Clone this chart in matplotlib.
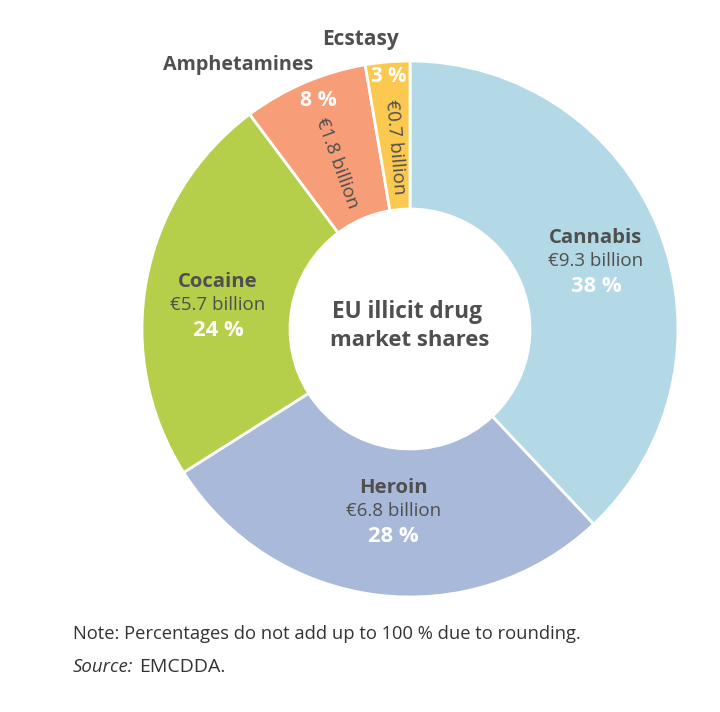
import matplotlib
matplotlib.use("Agg")
import matplotlib.pyplot as plt

labels = ["Cannabis", "Heroin", "Cocaine", "Amphetamines", "Ecstasy"]
amounts = ["€9.3 billion", "€6.8 billion", "€5.7 billion", "€1.8 billion", "€0.7 billion"]
pct_labels = ["38 %", "28 %", "24 %", "8 %", "3 %"]
# Slice sizes (EUR billion)
values = [9.23, 6.81, 5.78, 1.83, 0.65]
colors = ["#b3d9e6", "#a9b9da", "#b5cf4b", "#f79d78", "#fbc850"]

W, H = 720, 712
plt.rcParams["font.family"] = ["Open Sans", "DejaVu Sans"]
fig = plt.figure(figsize=(W/100, H/100), dpi=100, facecolor="white")
ax = fig.add_axes([0, 0, 1, 1])

cx, cy, R = 410, 329, 268
# The y axis is inverted below, so data-counterclockwise from -90 reads clockwise from the top
wedges, _ = ax.pie(values, colors=colors, startangle=-90, counterclock=True,
                   center=(cx, cy), radius=R, frame=False,
                   wedgeprops=dict(width=R-120, edgecolor="white", linewidth=2))
ax.set_xlim(0, W)
ax.set_ylim(H, 0)
ax.set_aspect("equal")
ax.axis("off")

dark = "#4f4f4f"
for x, y, i in [(596, 238, 0), (393.5, 488, 1), (218, 282, 2)]:
    ax.text(x, y, labels[i], ha="center", va="center", fontsize=14.6, fontweight="bold", color=dark)
    ax.text(x, y+23, amounts[i], ha="center", va="center", fontsize=13.5, color=dark)
    ax.text(x, y+48, pct_labels[i], ha="center", va="center", fontsize=15.8, fontweight="bold", color="white")

ax.text(238.5, 65, labels[3], ha="center", va="center", fontsize=14.2, fontweight="bold", color=dark)
ax.text(360, 39, labels[4], ha="center", va="center", fontsize=15, fontweight="bold", color=dark)
ax.text(318, 100, pct_labels[3], ha="center", va="center", fontsize=15.2, fontweight="bold", color="white")
ax.text(388.5, 76, pct_labels[4], ha="center", va="center", fontsize=14.8, fontweight="bold", color="white")
ax.text(337, 163, amounts[3], ha="center", va="center", fontsize=13.5, color=dark, rotation=-70, rotation_mode="anchor")
ax.text(395, 147, amounts[4], ha="center", va="center", fontsize=13.5, color=dark, rotation=-85, rotation_mode="anchor")

ax.text(407, 312, "EU illicit drug", ha="center", va="center", fontsize=16.3, fontweight="bold", color=dark)
ax.text(410, 341, "market shares", ha="center", va="center", fontsize=15.9, fontweight="bold", color=dark)

ax.text(73, 634, "Note: Percentages do not add up to 100 % due to rounding.", ha="left", va="center", fontsize=13.2, color="#333333")
ax.text(73, 667, "Source:", ha="left", va="center", fontsize=13.4, style="italic", color="#333333")
ax.text(139, 667, "EMCDDA.", ha="left", va="center", fontsize=14, color="#333333")
fig.savefig("out.png", dpi=100)
